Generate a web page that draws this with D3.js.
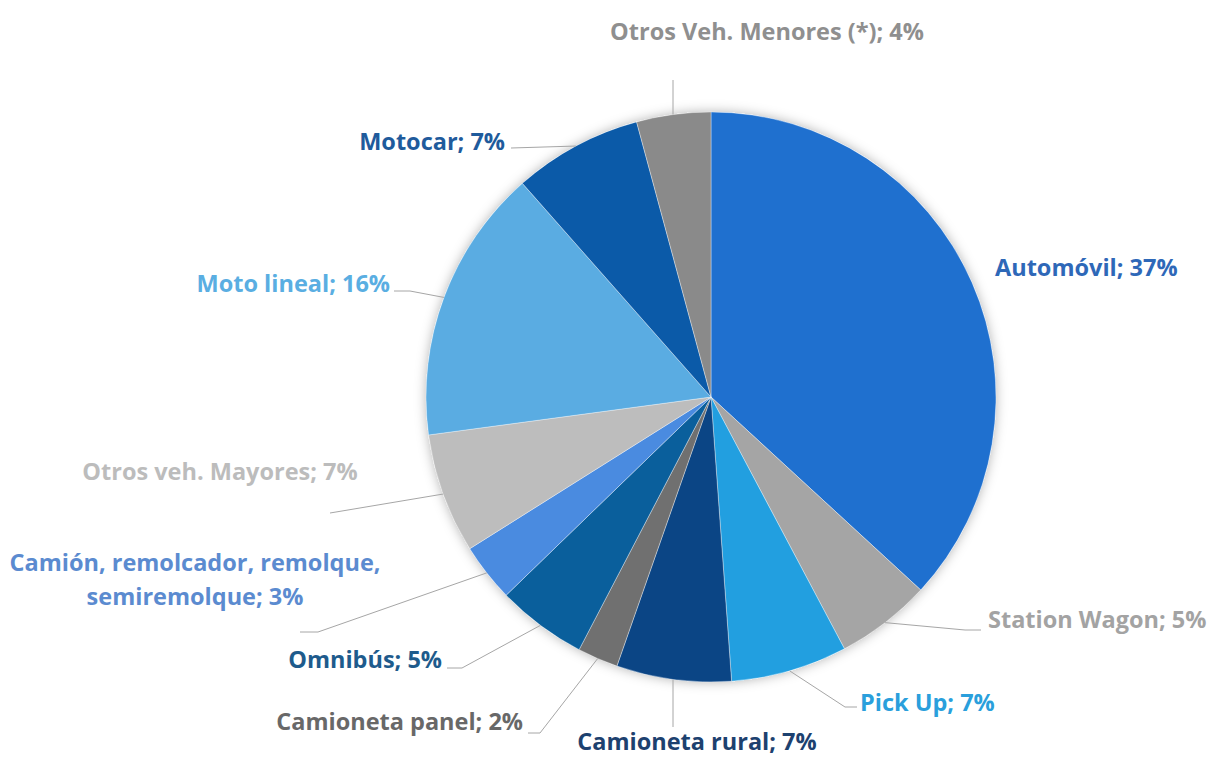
<!DOCTYPE html>
<html>
<head>
<meta charset="utf-8">
<script src="https://cdn.jsdelivr.net/npm/d3@7"></script>
<style>
  html, body { margin: 0; padding: 0; background: #ffffff; }
  svg { display: block; }
  text { font-family: "Open Sans", "Lato", sans-serif; font-weight: 700; }
</style>
</head>
<body>
<script>
// ---- data ----
const categories = ["Automóvil", "Station Wagon", "Pick Up", "Camioneta rural", "Camioneta panel",
  "Omnibús", "Camión, remolcador, remolque, semiremolque", "Otros veh. Mayores", "Moto lineal",
  "Motocar", "Otros Veh. Menores (*)"];
const shares = [36.8, 5.4, 6.6, 6.5, 2.3, 5.1, 3.3, 6.8, 15.6, 7.3, 4.2];
const labelLines = [
  ["Automóvil; 37%"],
  ["Station Wagon; 5%"],
  ["Pick Up; 7%"],
  ["Camioneta rural; 7%"],
  ["Camioneta panel; 2%"],
  ["Omnibús; 5%"],
  ["Camión, remolcador, remolque,", "semiremolque; 3%"],
  ["Otros veh. Mayores; 7%"],
  ["Moto lineal; 16%"],
  ["Motocar; 7%"],
  ["Otros Veh. Menores (*); 4%"]
];

// ---- styles ----
const sliceColors = ["#1f70cf", "#a5a5a5", "#229fe0", "#0b4585", "#707070", "#0a5f9c",
  "#4a8be0", "#bdbdbd", "#5aace2", "#0b5aa8", "#8a8a8a"];
const labelColors = ["#2e68b8", "#a3a3a3", "#2a9fdc", "#1d416f", "#686868", "#1e5b8c",
  "#5b8bd0", "#bcbcbc", "#5aaee2", "#1f5b9c", "#8f8f8f"];

// ---- layout (label anchor + leader elbows) ----
const labelLayout = [
  {anchor: "start",  x: 995, y: 276, pts: []},
  {anchor: "start",  x: 988, y: 628, pts: [[965, 630], [981, 630]]},
  {anchor: "start",  x: 860, y: 711, pts: [[845, 707], [857, 707]]},
  {anchor: "middle", x: 697, y: 750, pts: [[673, 727]], vertical: true},
  {anchor: "end",    x: 523, y: 730, pts: [[540, 733], [528, 733]]},
  {anchor: "end",    x: 442, y: 668, pts: [[462, 668], [447, 668]]},
  {anchor: "middle", x: 195, y: 571, pts: [[318, 632], [300, 632]]},
  {anchor: "middle", x: 220, y: 480, pts: [[330, 513]]},
  {anchor: "end",    x: 390, y: 292, pts: [[410, 291], [394, 291]]},
  {anchor: "end",    x: 505, y: 150, pts: [[511, 148]]},
  {anchor: "middle", x: 767, y: 40,  pts: [[673, 80]], vertical: true}
];

const W = 1210, H = 758;
const cx = 711, cy = 397, R = 285;

const svg = d3.select("body").append("svg").attr("width", W).attr("height", H);

const defs = svg.append("defs");
const f = defs.append("filter").attr("id", "shadow")
  .attr("x", "-20%").attr("y", "-20%").attr("width", "140%").attr("height", "140%");
f.append("feDropShadow").attr("dx", 0).attr("dy", 0).attr("stdDeviation", 6)
  .attr("flood-color", "#000").attr("flood-opacity", 0.3);

const pie = d3.pie().sort(null).value(d => d);
const arcs = pie(shares);
const arc = d3.arc().innerRadius(0).outerRadius(R);
const edgeArc = d3.arc().innerRadius(R).outerRadius(R);

const g = svg.append("g").attr("transform", `translate(${cx},${cy})`);

g.append("circle").attr("r", R).attr("fill", "#fff").attr("filter", "url(#shadow)");

g.selectAll("path.slice").data(arcs).enter().append("path")
  .attr("class", "slice")
  .attr("d", arc)
  .attr("fill", (d, i) => sliceColors[i])
  .attr("stroke", "rgba(255,255,255,0.45)")
  .attr("stroke-width", 0.8);

const line = d3.line();
arcs.forEach((d, i) => {
  const L = labelLayout[i];
  if (!L.pts.length) return;
  const c = edgeArc.centroid(d);
  const start = [c[0] + cx, c[1] + cy];
  let pts = [start].concat(L.pts);
  if (L.vertical) pts = [[L.pts[0][0], start[1]], L.pts[0]];
  svg.append("path").attr("d", line(pts))
    .attr("fill", "none").attr("stroke", "#a6a6a6").attr("stroke-width", 1);
});

labelLines.forEach((lines, i) => {
  const L = labelLayout[i];
  const t = svg.append("text")
    .attr("x", L.x).attr("y", L.y)
    .attr("text-anchor", L.anchor)
    .attr("fill", labelColors[i])
    .style("font-size", "23.5px");
  lines.forEach((s, k) => {
    t.append("tspan").attr("x", L.x).attr("dy", k === 0 ? 0 : 34).text(s);
  });
});
</script>
</body>
</html>
